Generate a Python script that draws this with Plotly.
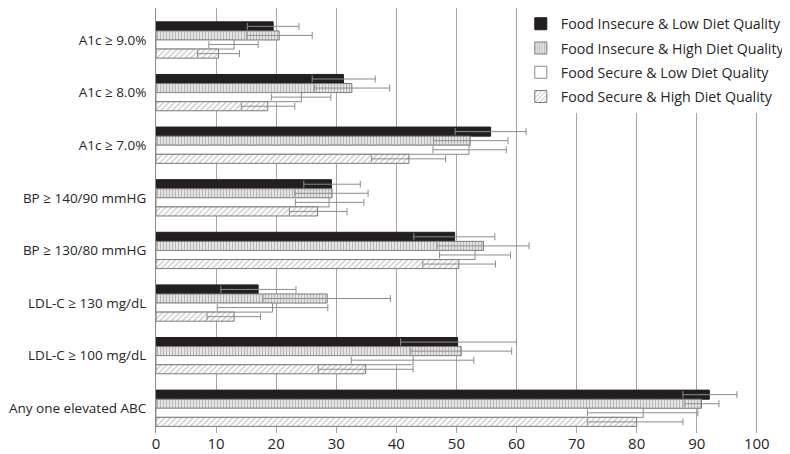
import plotly.graph_objects as go

categories = ["A1c ≥ 9.0%", "A1c ≥ 8.0%", "A1c ≥ 7.0%", "BP ≥ 140/90 mmHG",
              "BP ≥ 130/80 mmHG", "LDL-C ≥ 130 mg/dL", "LDL-C ≥ 100 mg/dL",
              "Any one elevated ABC"]

series_names = ["Food Insecure & Low Diet Quality", "Food Insecure & High Diet Quality",
                "Food Secure & Low Diet Quality", "Food Secure & High Diet Quality"]

fi_low = [19.5, 31.2, 55.7, 29.2, 49.7, 17.0, 50.2, 92.1]
fi_low_lo = [15.2, 26.0, 49.8, 24.6, 42.9, 10.8, 40.7, 87.7]
fi_low_hi = [23.8, 36.5, 61.6, 34.0, 56.4, 23.3, 60.0, 96.7]

fi_high = [20.5, 32.6, 52.3, 29.3, 54.5, 28.5, 50.8, 90.8]
fi_high_lo = [15.1, 26.4, 46.2, 23.1, 46.8, 17.8, 42.4, 87.9]
fi_high_hi = [26.0, 38.9, 58.6, 35.3, 62.1, 39.0, 59.2, 93.7]

fs_low = [13.0, 24.2, 52.1, 28.8, 53.1, 19.4, 42.8, 81.1]
fs_low_lo = [8.8, 19.2, 46.1, 23.2, 47.2, 10.2, 32.5, 71.8]
fs_low_hi = [17.0, 29.1, 58.3, 34.6, 59.0, 28.6, 52.9, 90.2]

fs_high = [10.4, 18.6, 42.1, 26.9, 50.4, 13.0, 34.9, 80.0]
fs_high_lo = [6.9, 14.2, 35.9, 22.2, 44.4, 8.5, 27.0, 71.8]
fs_high_hi = [13.9, 23.1, 48.2, 31.8, 56.5, 17.4, 42.8, 87.7]

x_ticks = [0, 10, 20, 30, 40, 50, 60, 70, 80, 90, 100]

values = [fi_low, fi_high, fs_low, fs_high]
lows = [fi_low_lo, fi_high_lo, fs_low_lo, fs_high_lo]
highs = [fi_low_hi, fi_high_hi, fs_low_hi, fs_high_hi]

styles = [
    dict(color="#231f20", line=dict(color="#231f20", width=1), pattern=dict(shape="")),
    dict(color="#dcdcdc", line=dict(color="#7a7a7a", width=1),
         pattern=dict(shape="|", fgcolor="#8a8a8a", bgcolor="#e4e4e4", size=3, solidity=0.35)),
    dict(color="#ffffff", line=dict(color="#8a8a8a", width=1), pattern=dict(shape="")),
    dict(color="#ffffff", line=dict(color="#7a7a7a", width=1),
         pattern=dict(shape="/", fgcolor="#8a8a8a", bgcolor="#ffffff", size=4, solidity=0.3)),
]

fig = go.Figure()
for i in range(4):
    v = values[i]
    plus = [round(h - a, 2) for h, a in zip(highs[i], v)]
    minus = [round(a - l, 2) for a, l in zip(v, lows[i])]
    fig.add_trace(go.Bar(
        y=categories, x=v, orientation="h", name=series_names[i],
        marker=styles[i], legendgroup=f"g{i}",
        error_x=dict(type="data", array=plus, arrayminus=minus, symmetric=False,
                     color="#8c8c8c", thickness=1, width=3.5),
    ))

# page body has an 8px margin, so the figure is 8px smaller than the window
fig.update_layout(
    width=782, height=446,
    margin=dict(l=148, r=19, t=0, b=21),
    paper_bgcolor="white", plot_bgcolor="white",
    barmode="group", bargap=0.31, bargroupgap=0,
    font=dict(family="Open Sans", size=14, color="#262626"),
    legend=dict(x=0.606, y=1, xanchor="left", yanchor="top", bgcolor="white",
                traceorder="grouped", tracegroupgap=2.8, itemwidth=30,
                font=dict(size=14.2, color="#262626")),
    showlegend=True,
)
fig.update_xaxes(range=[0, 100.2], tickvals=x_ticks, showgrid=True, gridcolor="#a6a6a6",
                 gridwidth=1, zeroline=False, showline=False, ticks="",
                 automargin=False, tickfont=dict(size=15))
fig.update_yaxes(categoryorder="array", categoryarray=categories,
                 range=[7.47, -0.608], showgrid=False, zeroline=False,
                 showline=True, linecolor="#8c8c8c", linewidth=1,
                 ticks="", ticklabelstandoff=6, automargin=False, tickfont=dict(size=13.5))

fig.write_html("out.html")
